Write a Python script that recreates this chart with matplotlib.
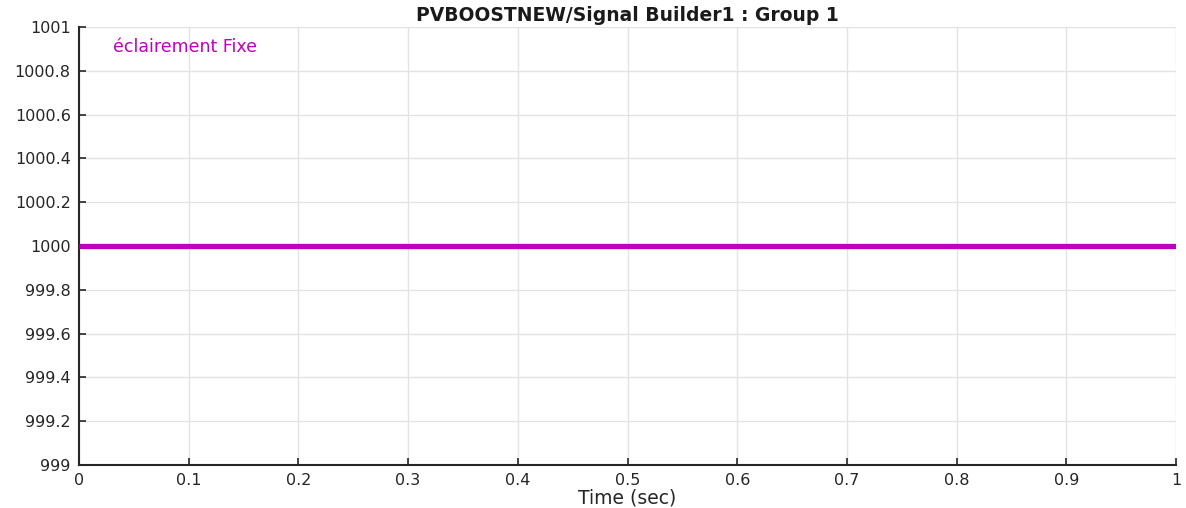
import matplotlib
matplotlib.use("Agg")
import matplotlib.pyplot as plt

plt.rcParams['font.family'] = ['DejaVu Sans']

# Signal Builder output: constant irradiance
t = [0.0, 1.0]
irradiance = [1000.0, 1000.0]
yticks = [999, 999.2, 999.4, 999.6, 999.8, 1000, 1000.2, 1000.4, 1000.6, 1000.8, 1001]
xticks = [0, 0.1, 0.2, 0.3, 0.4, 0.5, 0.6, 0.7, 0.8, 0.9, 1]

fig = plt.figure(figsize=(11.86, 5.08), dpi=100)
ax = fig.add_axes([0.0666, 0.0846, 0.9250, 0.8623])

magenta = '#bf00bf'
ax.plot(t, irradiance, color=magenta, linewidth=3.8, solid_capstyle='butt', zorder=3)

ax.set_xlim(0, 1)
ax.set_ylim(999, 1001)
ax.set_xticks(xticks)
ax.set_xticklabels([f"{v:g}" for v in xticks])
ax.set_yticks(yticks)
ax.set_yticklabels([f"{v:g}" for v in yticks])

ax.grid(True, color='#e3e3e3', linewidth=1.0)
ax.set_axisbelow(True)
for side in ('top', 'right'):
    ax.spines[side].set_visible(False)
for side in ('left', 'bottom'):
    ax.spines[side].set_color('#262626')
    ax.spines[side].set_linewidth(1.5)
ax.tick_params(direction='in', length=5, width=1.2, color='#262626',
               labelsize=11.5, labelcolor='#262626', pad=6)

ax.set_title("PVBOOSTNEW/Signal Builder1 : Group 1", fontsize=13.5,
             fontweight='bold', color='#1a1a1a', pad=4)
ax.set_xlabel("Time (sec)", fontsize=13.5, color='#262626', labelpad=0)

ax.text(0.031, 0.955, "éclairement Fixe", transform=ax.transAxes,
        color=magenta, fontsize=12.5, va='center', ha='left')

fig.savefig("out.png", dpi=100)
